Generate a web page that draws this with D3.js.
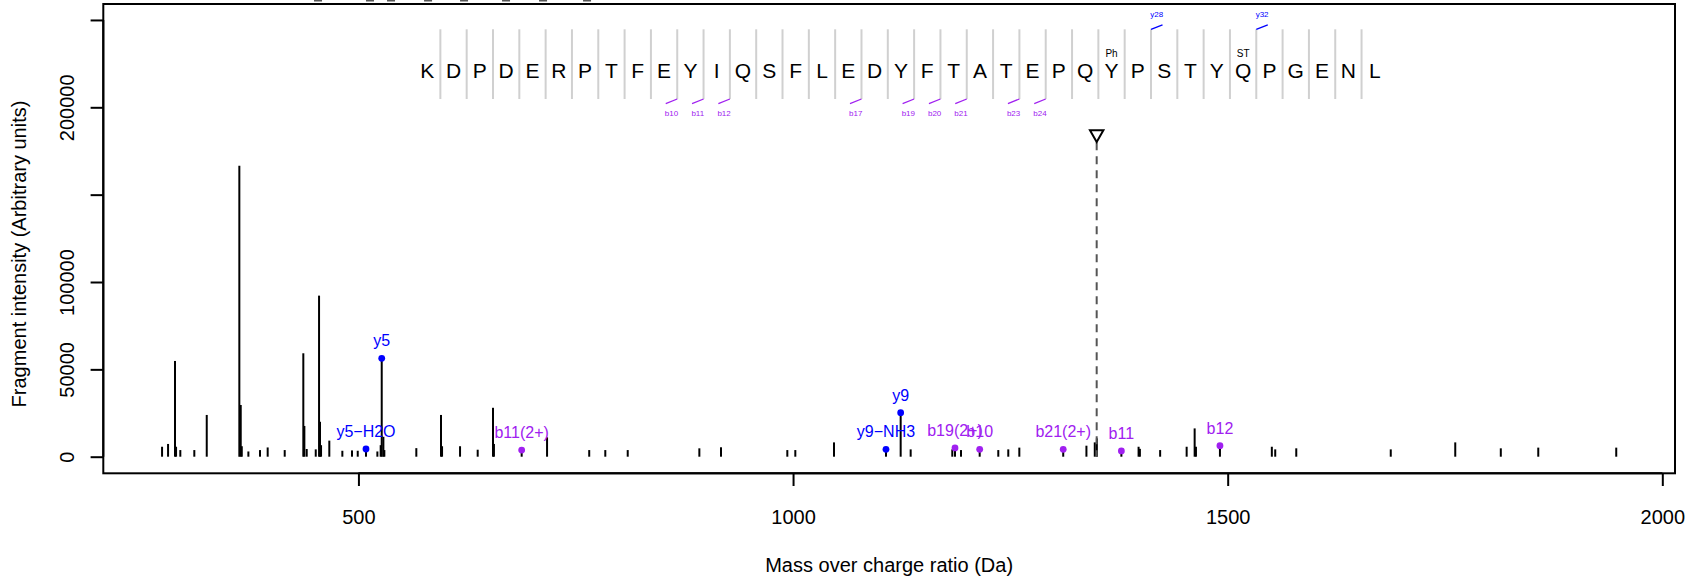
<!DOCTYPE html>
<html>
<head>
<meta charset="utf-8">
<script src="https://cdn.jsdelivr.net/npm/d3@7"></script>
<style>
  html, body { margin: 0; padding: 0; background: #fff; }
  svg { display: block; font-family: "Liberation Sans", Arial, Helvetica, sans-serif; }
</style>
</head>
<body>
<svg id="chart" width="1701" height="581"></svg>
<script>
// ---------------- data ----------------
const peakMz = [274.1, 281, 289, 290.2, 295.1, 311.2, 325.5, 363, 364.6, 365.8, 373.4, 386.8, 395.6, 415.2,
  436.6, 437.8, 440.5, 450.9, 454.7, 455.8, 457, 466.5, 481.5, 492.6, 499.2, 508.7, 521.8, 525.6, 526.8,
  528.7, 529.8, 566.6, 595, 596.2, 616.9, 637.2, 654.8, 655.9, 687.8, 717, 765.5, 784, 809.8, 892.2, 917.1,
  993.4, 1002.6, 1047.1, 1106.9, 1123.8, 1135.3, 1183.2, 1186.3, 1193.2, 1214.7, 1236.1, 1247.6, 1260.3,
  1310.8, 1337.5, 1347.1, 1349.5, 1377.7, 1397.5, 1399, 1422.3, 1452.8, 1462, 1463.5, 1491.1, 1550.8,
  1554.7, 1578.9, 1687.6, 1761.8, 1814.2, 1857.3, 1947];
const peakIntensity = [5700, 7300, 54800, 5700, 3800, 3800, 23900, 166600, 29600, 6000, 3000, 3800, 5300, 3800,
  59200, 17600, 4400, 4200, 92200, 20000, 6600, 9200, 3400, 3600, 3400, 4400, 3000, 6600, 56300,
  11400, 3800, 4900, 23900, 6000, 6000, 4000, 28000, 7300, 3800, 11100, 3800, 3800, 3800, 4800, 5400,
  3800, 3800, 8200, 4200, 25200, 4200, 4200, 5000, 3800, 4200, 3800, 4200, 5200,
  4200, 6300, 8200, 10500, 3300, 5700, 4500, 3800, 5700, 16200, 5700, 6300, 5700,
  4200, 4800, 4200, 8200, 4800, 5200, 5200];

const annLabel = ["y5\u2212H2O", "y5", "b11(2+)", "y9\u2212NH3", "y9", "b19(2+)", "b10", "b21(2+)", "b11", "b12"];
const annMz = [508.7, 526.8, 687.8, 1106.9, 1123.8, 1186.3, 1214.7, 1310.8, 1377.7, 1491.1];
const annIntensity = [4400, 56300, 3800, 4200, 25200, 5000, 4200, 4200, 3300, 6300];
const annIonType = ["y", "y", "b", "y", "y", "b", "b", "b", "b", "b"];

const precursorMz = 1349.3;
const precursorMarkIntensity = 183500;

const sequence = "KDPDERPTFEYIQSFLEDYFTATEPQYPSTYQPGENL".split("");
const bIonSites = [10, 11, 12, 17, 19, 20, 21, 23, 24];
const yIonSites = [28, 32];
const modSites = [27, 32];
const modLabels = ["Ph", "ST"];

// clipped remnants visible along the top edge (m/z positions)
const topClipMz = [453.5, 513.3, 537.5, 580.1, 621.5, 669.8, 712.4, 763];

const xTicks = [500, 1000, 1500, 2000];
const yTicks = [0, 50000, 100000, 150000, 200000, 250000];
const yTickLabels = ["0", "50000", "100000", "", "200000", ""];

// ---------------- layout ----------------
const plotL = 103.3, plotR = 1675, plotT = 4, plotB = 473.3;
const ionColor = { y: "#0000FF", b: "#A020F0" };

const svg = d3.select("#chart");
const x = d3.scaleLinear().domain([206.5, 2014.6]).range([plotL, plotR]);
const y = d3.scaleLinear().domain([-9500, 259130]).range([plotB, plotT]);

// top clipped marks
svg.append("g").selectAll("rect").data(topClipMz).join("rect")
  .attr("x", d => x(d) - 4).attr("y", 0).attr("width", 8).attr("height", 1.5)
  .attr("fill", "#555");

// peaks
svg.append("g").selectAll("line").data(peakMz).join("line")
  .attr("x1", d => x(d)).attr("x2", d => x(d))
  .attr("y1", y(0)).attr("y2", (d, i) => y(peakIntensity[i]))
  .attr("stroke", "#000").attr("stroke-width", 2);

// precursor dashed line + triangle
const px = x(precursorMz), py = y(precursorMarkIntensity);
svg.append("line").attr("x1", px).attr("x2", px).attr("y1", py + 6).attr("y2", y(0))
  .attr("stroke", "#555").attr("stroke-width", 2).attr("stroke-dasharray", "8,6");
svg.append("path")
  .attr("d", `M${px - 6.7},${py - 5.8} L${px + 6.7},${py - 5.8} L${px},${py + 5.8} Z`)
  .attr("fill", "#fff").attr("stroke", "#000").attr("stroke-width", 2);

// annotated points + labels
const ann = svg.append("g");
ann.selectAll("circle").data(annMz).join("circle")
  .attr("cx", d => x(d)).attr("cy", (d, i) => y(annIntensity[i])).attr("r", 3.4)
  .attr("fill", (d, i) => ionColor[annIonType[i]]);
ann.selectAll("text").data(annLabel).join("text")
  .attr("x", (d, i) => x(annMz[i])).attr("y", (d, i) => y(annIntensity[i]) - 12)
  .attr("text-anchor", "middle").attr("font-size", 16)
  .attr("fill", (d, i) => ionColor[annIonType[i]]).text(d => d);

// axes
const xAxis = d3.axisBottom(x).tickValues(xTicks).tickSize(12.7).tickPadding(0).tickFormat(d3.format("d"));
const gx = svg.append("g").attr("transform", `translate(0,${plotB})`).call(xAxis);
gx.select(".domain").attr("d", `M${x(500)},0H${x(2000)}`).attr("stroke-width", 2);
gx.selectAll(".tick line").attr("stroke-width", 2);
gx.selectAll(".tick text").attr("font-size", 20).attr("font-family", "Liberation Sans, Arial, sans-serif")
  .attr("fill", "#000").attr("y", 50.7).attr("dy", null);

const yAxis = d3.axisLeft(y).tickValues(yTicks).tickSize(12.7).tickFormat((d, i) => yTickLabels[i]);
const gy = svg.append("g").attr("transform", `translate(${plotL},0)`).call(yAxis);
gy.select(".domain").attr("d", `M0,${y(0)}V${y(250000)}`).attr("stroke-width", 2);
gy.selectAll(".tick line").attr("stroke-width", 2);
gy.selectAll(".tick text").attr("font-size", 20).attr("font-family", "Liberation Sans, Arial, sans-serif")
  .attr("fill", "#000").attr("x", null).attr("dy", null)
  .attr("transform", "translate(-29.8,0) rotate(-90)").attr("text-anchor", "middle").attr("y", 0);

// box
svg.append("rect").attr("x", plotL).attr("y", plotT).attr("width", plotR - plotL).attr("height", plotB - plotT)
  .attr("fill", "none").attr("stroke", "#000").attr("stroke-width", 2);

// axis titles
svg.append("text").attr("x", (plotL + plotR) / 2).attr("y", 572).attr("text-anchor", "middle")
  .attr("font-size", 20).text("Mass over charge ratio (Da)");
svg.append("text").attr("transform", `translate(25.5,254) rotate(-90)`).attr("text-anchor", "middle")
  .attr("font-size", 20).text("Fragment intensity (Arbitrary units)");

// sequence annotation
const seqX0 = 427.2, seqStep = 26.32, sepTop = 29.3, sepBot = 99, letterBase = 78.3;
const seqG = svg.append("g");
const sepX = k => seqX0 + (k - 0.5) * seqStep;  // separator after residue k (1-based)
const resX = i => seqX0 + i * seqStep;          // residue i (0-based)
seqG.selectAll("line.sep").data(d3.range(1, sequence.length)).join("line").attr("class", "sep")
  .attr("x1", k => sepX(k)).attr("x2", k => sepX(k)).attr("y1", sepTop).attr("y2", sepBot)
  .attr("stroke", "#d0d0d0").attr("stroke-width", 2);
seqG.selectAll("text.res").data(sequence).join("text").attr("class", "res")
  .attr("x", (d, i) => resX(i)).attr("y", letterBase).attr("text-anchor", "middle")
  .attr("font-size", 21).attr("fill", "#000").text(d => d);
seqG.selectAll("text.mod").data(modSites).join("text").attr("class", "mod")
  .attr("x", d => resX(d - 1)).attr("y", 56.5).attr("text-anchor", "middle")
  .attr("font-size", 10).attr("fill", "#000").text((d, i) => modLabels[i]);
// b ions (below)
seqG.selectAll("line.b").data(bIonSites).join("line").attr("class", "b")
  .attr("x1", k => sepX(k)).attr("y1", sepBot).attr("x2", k => sepX(k) - 11.5).attr("y2", sepBot + 4.6)
  .attr("stroke", ionColor.b).attr("stroke-width", 1.3);
seqG.selectAll("text.b").data(bIonSites).join("text").attr("class", "b")
  .attr("x", k => sepX(k) - 5.8).attr("y", 116).attr("text-anchor", "middle")
  .attr("font-size", 8).attr("fill", ionColor.b).text(k => "b" + k);
// y ions (above)
seqG.selectAll("line.y").data(yIonSites).join("line").attr("class", "y")
  .attr("x1", k => sepX(k)).attr("y1", sepTop).attr("x2", k => sepX(k) + 11.5).attr("y2", sepTop - 4.5)
  .attr("stroke", ionColor.y).attr("stroke-width", 1.3);
seqG.selectAll("text.y").data(yIonSites).join("text").attr("class", "y")
  .attr("x", k => sepX(k) + 5.8).attr("y", 17).attr("text-anchor", "middle")
  .attr("font-size", 8).attr("fill", ionColor.y).text(k => "y" + k);
</script>
</body>
</html>
